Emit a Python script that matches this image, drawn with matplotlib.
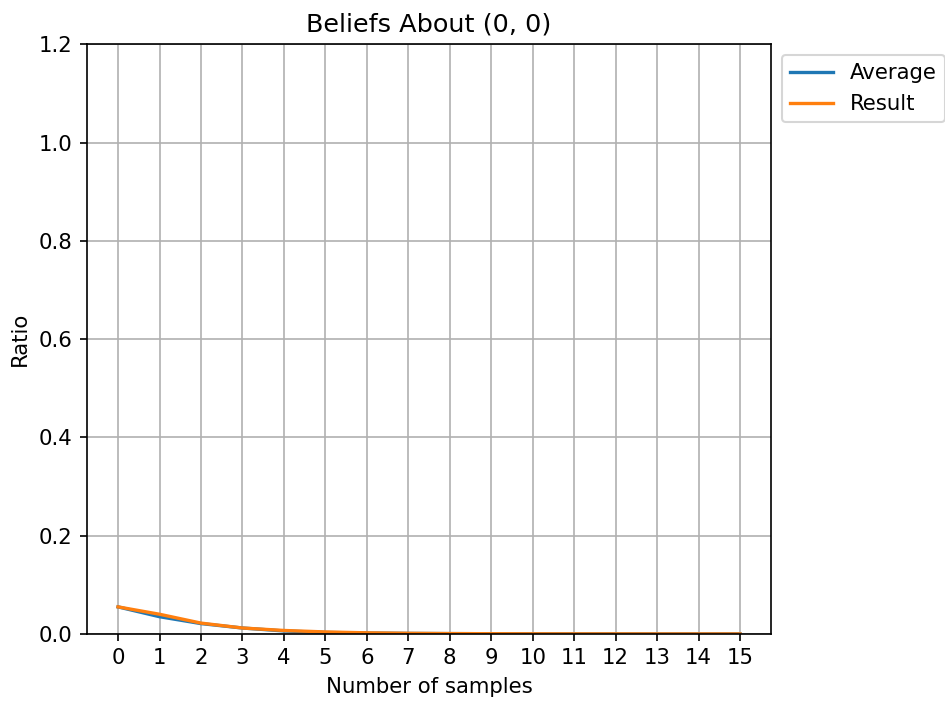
import matplotlib
matplotlib.use("Agg")
import matplotlib.pyplot as plt

plt.rcParams["font.size"] = 10.2

samples = list(range(16))
average = [0.055, 0.035, 0.021, 0.012, 0.006, 0.003, 0.0018, 0.001, 0.0006, 0.0004, 0.0002, 0.0001, 0.0001, 0.0, 0.0, 0.0]
result = [0.055, 0.040, 0.022, 0.012, 0.007, 0.004, 0.0022, 0.0012, 0.0007, 0.0004, 0.0002, 0.0001, 0.0001, 0.0, 0.0, 0.0]

fig = plt.figure(figsize=(6.3, 4.68), dpi=150)
ax = fig.add_axes([0.092, 0.097, 0.724, 0.84])
ax.plot(samples, average, label="Average", color="#1f77b4", lw=1.6)
ax.plot(samples, result, label="Result", color="#ff7f0e", lw=1.6)
ax.set_ylim(0, 1.2)
ax.set_xticks(samples)
ax.grid(True)
ax.set_xlabel("Number of samples")
ax.set_ylabel("Ratio")
ax.set_title("Beliefs About (0, 0)")
ax.legend(loc="upper left", bbox_to_anchor=(1.0, 1.0))
fig.savefig("out.png", dpi=150)
